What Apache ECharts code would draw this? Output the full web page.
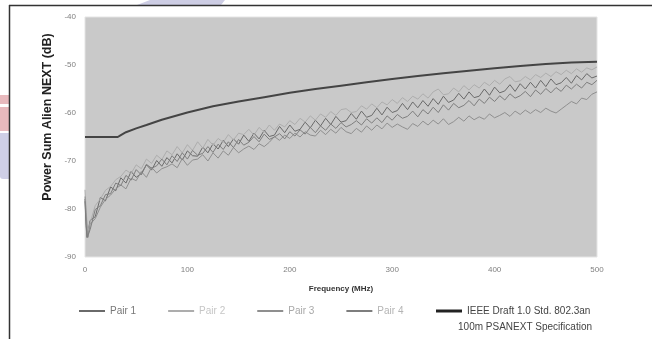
<!DOCTYPE html>
<html>
<head>
<meta charset="utf-8">
<script src="https://cdn.jsdelivr.net/npm/echarts@6/dist/echarts.min.js"></script>
<style>
  html, body { margin: 0; padding: 0; background: #fff; }
  #chart { width: 652px; height: 339px; }
</style>
</head>
<body>
<div id="chart"></div>
<script>
// sweep frequencies (MHz)
const freq = [
  0, 1, 2, 3, 5, 10, 15, 20, 25, 30,
  35, 40, 45, 50, 55, 60, 65, 70, 75, 80,
  85, 90, 95, 100, 105, 110, 115, 120, 125, 130,
  135, 140, 145, 150, 155, 160, 165, 170, 175, 180,
  185, 190, 195, 200, 205, 210, 215, 220, 225, 230,
  235, 240, 245, 250, 255, 260, 265, 270, 275, 280,
  285, 290, 295, 300, 305, 310, 315, 320, 325, 330,
  335, 340, 345, 350, 355, 360, 365, 370, 375, 380,
  385, 390, 395, 400, 405, 410, 415, 420, 425, 430,
  435, 440, 445, 450, 455, 460, 465, 470, 475, 480,
  485, 490, 495, 500
];

const pair1 = [
  -77.9, -82.6, -85.8, -84.7, -82.4, -81.6, -77.6, -78.3, -75.4, -76.2,
  -73.5, -74.6, -72.2, -73.4, -72.6, -70.8, -71.9, -69.9, -71.1, -69.3,
  -70.4, -68.5, -69.8, -67.9, -68.9, -69.0, -67.1, -68.3, -66.4, -67.5,
  -65.7, -67.0, -65.4, -66.5, -64.6, -65.9, -64.2, -65.4, -63.6, -64.9,
  -64.6, -62.8, -64.1, -62.5, -63.8, -63.4, -61.9, -63.1, -61.5, -62.7,
  -61.1, -62.4, -60.7, -61.9, -61.6, -60.1, -61.3, -59.6, -60.9, -60.5,
  -59.0, -60.4, -58.8, -59.9, -59.5, -58.0, -59.3, -57.7, -58.9, -57.4,
  -58.6, -57.0, -58.2, -56.5, -57.8, -57.3, -55.9, -57.1, -55.6, -56.8,
  -56.5, -55.0, -56.3, -54.6, -55.8, -55.4, -54.1, -55.5, -53.9, -55.0,
  -53.6, -54.8, -53.2, -54.5, -52.9, -54.1, -53.7, -52.6, -53.8, -52.2,
  -53.1, -51.8, -52.7, -52.3
];

const pair2 = [
  -76.0, -79.8, -83.1, -84.6, -82.9, -79.3, -77.9, -76.1, -75.3, -73.9,
  -73.2, -71.9, -72.6, -70.8, -71.6, -69.6, -70.5, -68.8, -69.7, -67.9,
  -68.7, -67.0, -68.3, -66.6, -67.8, -66.0, -67.3, -65.5, -66.7, -65.3,
  -66.1, -64.5, -65.6, -64.2, -64.5, -63.4, -64.6, -63.0, -64.0, -62.5,
  -63.6, -62.3, -62.9, -61.6, -62.4, -61.1, -61.9, -60.6, -61.5, -60.2,
  -60.9, -59.7, -60.5, -59.3, -59.1, -59.9, -59.7, -58.5, -59.2, -58.1,
  -58.9, -57.7, -58.3, -57.2, -58.0, -56.8, -57.6, -56.5, -57.1, -56.0,
  -56.9, -55.6, -55.0, -56.2, -56.0, -54.8, -55.6, -54.3, -55.2, -54.1,
  -54.8, -53.6, -54.3, -53.2, -54.0, -52.9, -52.4, -53.5, -53.3, -52.4,
  -53.1, -52.0, -52.6, -51.7, -52.4, -51.4, -52.0, -51.1, -51.8, -50.8,
  -51.5, -50.6, -51.0, -50.4
];

const pair3 = [
  -77.4, -80.7, -84.0, -85.9, -83.2, -82.0, -79.6, -78.0, -77.1, -75.8,
  -75.0, -75.8, -73.6, -74.1, -72.2, -73.4, -71.3, -72.5, -71.6, -71.2,
  -70.6, -71.4, -69.5, -70.9, -69.8, -69.6, -68.7, -70.0, -68.3, -69.4,
  -67.9, -68.8, -67.2, -68.3, -67.5, -66.9, -67.6, -66.4, -67.0, -66.1,
  -64.9, -65.7, -64.6, -65.3, -64.2, -65.0, -63.9, -64.6, -64.8, -63.6,
  -64.5, -63.4, -64.2, -63.0, -63.9, -64.3, -63.2, -64.0, -62.7, -63.6,
  -62.5, -63.3, -62.1, -63.0, -62.3, -62.9, -63.4, -62.2, -62.8, -61.7,
  -62.5, -61.5, -62.3, -61.2, -62.4, -61.8, -60.9, -61.7, -60.6, -61.4,
  -60.8, -61.3, -60.2, -61.0, -60.5, -59.9, -60.7, -59.6, -60.3, -59.4,
  -60.1, -59.3, -59.9, -59.0, -59.6, -60.0, -59.2, -58.4, -57.6, -58.1,
  -56.9, -57.2, -56.1, -55.6
];

const pair4 = [
  -78.4, -83.5, -86.0, -85.4, -84.3, -80.1, -79.3, -77.0, -76.8, -74.6,
  -75.1, -73.0, -74.0, -71.8, -72.9, -70.7, -71.5, -71.0, -69.6, -70.8,
  -68.9, -70.1, -68.3, -69.6, -67.8, -68.8, -68.4, -67.0, -68.2, -66.5,
  -67.6, -66.0, -67.2, -65.5, -66.7, -66.1, -64.9, -66.0, -64.4, -65.5,
  -65.0, -64.3, -65.4, -63.9, -64.8, -63.5, -64.4, -63.0, -64.1, -62.7,
  -63.6, -62.3, -63.2, -62.0, -62.9, -62.4, -61.6, -62.5, -61.2, -62.1,
  -61.0, -62.0, -60.6, -61.5, -60.3, -61.1, -60.7, -59.6, -60.8, -59.3,
  -60.2, -58.8, -59.9, -58.3, -59.4, -58.0, -58.9, -58.4, -57.4, -58.5,
  -57.1, -58.0, -56.7, -57.6, -56.4, -57.3, -56.0, -56.9, -56.4, -55.5,
  -56.6, -55.2, -56.1, -54.9, -55.8, -54.7, -55.5, -54.2, -55.0, -54.0,
  -54.8, -53.6, -54.1, -53.2
];

// PSANEXT limit line
const specFreq = [0, 32, 35, 40, 50, 60, 75, 100, 125, 150, 175, 200, 225, 250, 275, 300, 325, 350, 375, 400, 425, 450, 475, 500];
const specLoss = [-65, -65, -64.6, -64.0, -63.2, -62.5, -61.4, -59.9, -58.6, -57.6, -56.7, -55.8, -55.0, -54.3, -53.6, -52.9, -52.3, -51.7, -51.2, -50.7, -50.2, -49.8, -49.5, -49.3];

const pairNames = ["Pair 1", "Pair 2", "Pair 3", "Pair 4"];
const specName = "IEEE Draft 1.0 Std. 802.3an";
const specName2 = "100m PSANEXT Specification";

const pairColors = ["#6a6a6a", "#adadad", "#8f8f8f", "#7e7e7e"];
const legendColors = ["#777777", "#c6c6c6", "#a8a8a8", "#b4b4b4"];

const chart = echarts.init(document.getElementById("chart"), null, { renderer: "canvas" });

let series = [pair1, pair2, pair3, pair4].map((vals, i) => ({
  name: pairNames[i],
  type: "line",
  symbol: "none",
  showSymbol: false,
  data: freq.map((f, j) => [f, vals[j]]),
  lineStyle: { width: 1, color: pairColors[i] },
  itemStyle: { color: pairColors[i] },
  z: 2,
}));
series.push({
  name: specName,
  type: "line",
  symbol: "none",
  showSymbol: false,
  data: specFreq.map((f, j) => [f, specLoss[j]]),
  lineStyle: { width: 2, color: "#444" },
  itemStyle: { color: "#444" },
  z: 3,
});

let option = {
  backgroundColor: "#fff",
  animation: false,
  grid: {
    left: 85,
    top: 17,
    right: 55,
    bottom: 82,
    show: true,
    backgroundColor: "#c9c9c9",
    borderColor: "#e4e4e4",
    borderWidth: 1,
  },
  xAxis: {
    type: "value",
    min: 0,
    max: 500,
    interval: 100,
    name: "Frequency (MHz)",
    nameLocation: "middle",
    nameGap: 28,
    nameTextStyle: { fontFamily: "Liberation Sans", fontSize: 8, fontWeight: "bold", color: "#333" },
    axisLine: { show: false },
    axisTick: { show: false },
    splitLine: { show: false },
    axisLabel: { margin: 9, fontFamily: "Liberation Sans", fontSize: 8, color: "#808080" },
  },
  yAxis: {
    type: "value",
    min: -90,
    max: -40,
    interval: 10,
    axisLine: { show: false },
    axisTick: { show: false },
    splitLine: { show: false },
    axisLabel: { margin: 9, fontFamily: "Liberation Sans", fontSize: 8, color: "#808080" },
  },
  legend: {
    left: 78,
    top: 306,
    padding: 0,
    itemWidth: 26,
    itemHeight: 10,
    itemGap: 31,
    itemStyle: { opacity: 0 },
    textStyle: { fontFamily: "Liberation Sans", fontSize: 10 },
    data: pairNames.map((n, i) => ({ name: n, textStyle: { color: legendColors[i] } }))
      .concat([{ name: specName, textStyle: { color: "#444" }, lineStyle: { width: 3, color: "#222" } }]),
  },
  graphic: [
    // page frame and decorations around the figure
    { type: "polygon", shape: { points: [[137, 5], [150, 0], [225, 0], [221, 5]] }, style: { fill: "#cdcde4" }, silent: true },
    { type: "rect", shape: { x: 0, y: 95, width: 9, height: 9 }, style: { fill: "#e8b9bd" }, silent: true },
    { type: "rect", shape: { x: 0, y: 107, width: 9, height: 24 }, style: { fill: "#e8b9bd" }, silent: true },
    { type: "rect", shape: { x: 0, y: 133, width: 9, height: 46, r: [0, 0, 0, 3] }, style: { fill: "#cfcfe6" }, silent: true },
    { type: "line", shape: { x1: 9, y1: 5.5, x2: 652, y2: 5.5 }, style: { stroke: "#333", lineWidth: 1.5 }, silent: true },
    { type: "line", shape: { x1: 9.5, y1: 5, x2: 9.5, y2: 339 }, style: { stroke: "#333", lineWidth: 1.5 }, silent: true },
    {
      type: "text",
      x: 48,
      y: 117,
      rotation: Math.PI / 2,
      style: {
        text: "Power Sum Alien NEXT (dB)",
        fontFamily: "Liberation Sans",
        fontSize: 12.5,
        fontWeight: "bold",
        fill: "#222",
        align: "center",
        verticalAlign: "middle",
      },
    },
    {
      type: "text",
      right: 60,
      top: 322,
      style: {
        text: specName2,
        fontFamily: "Liberation Sans",
        fontSize: 10,
        fill: "#444",
      },
    },
  ],
  series: series,
};
chart.setOption(option);
</script>
</body>
</html>
